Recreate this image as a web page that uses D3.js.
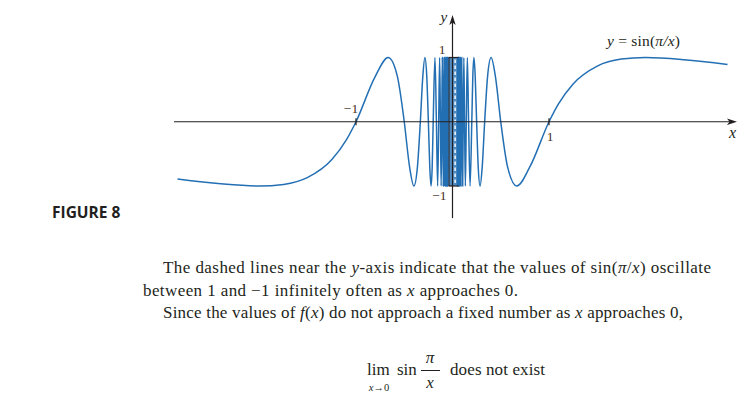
<!DOCTYPE html>
<html>
<head>
<meta charset="utf-8">
<script src="https://cdn.jsdelivr.net/npm/d3@7"></script>
<style>
  body { margin: 0; background: #fff; }
  svg { display: block; }
</style>
</head>
<body>
<div id="chart"></div>
<script>
// points, right of the y-axis (x > 0)
const rightX = [0.05, 0.0513, 0.0526, 0.0541, 0.0556, 0.0571, 0.0588, 0.0606,
  0.0625, 0.0645, 0.0667, 0.0690, 0.0714, 0.0741, 0.0769, 0.08, 0.0833, 0.0870,
  0.0909, 0.0952, 0.1, 0.1053, 0.1111, 0.1176, 0.125, 0.1333, 0.1429, 0.1538,
  0.1667, 0.1818, 0.2, 0.2105, 0.2222, 0.2353, 0.25, 0.2667, 0.2857, 0.3077,
  0.3333, 0.3636, 0.4, 0.4444, 0.5, 0.5714, 0.6667, 0.8, 1, 1.1, 1.25, 1.5,
  1.75, 2, 2.4, 2.85];
const rightY = [0, -1, 0, 1, 0, -1, 0, 1,
  0, -1, 0, 1, 0, -1, 0, 1, 0, -1,
  0, 1, 0, -1, 0, 1, 0, -1, 0, 1,
  0, -1, 0, 0.707, 1, 0.707, 0, -0.707, -1, -0.707,
  0, 0.707, 1, 0.707, 0, -0.707, -1, -0.707, 0, 0.282, 0.588, 0.866,
  0.975, 1, 0.966, 0.892];

// points, left of the y-axis (x < 0)
const leftX = [-2.85, -2.4, -2, -1.75, -1.5, -1.25, -1.1, -1, -0.8, -0.6667,
  -0.5714, -0.5, -0.4444, -0.4, -0.3636, -0.3333, -0.3077, -0.2857, -0.2667,
  -0.25, -0.2353, -0.2222, -0.2105, -0.2, -0.1818, -0.1667, -0.1538, -0.1429,
  -0.1333, -0.125, -0.1176, -0.1111, -0.1053, -0.1, -0.0952, -0.0909, -0.0870,
  -0.0833, -0.08, -0.0769, -0.0741, -0.0714, -0.0690, -0.0667, -0.0645, -0.0625,
  -0.0606, -0.0588, -0.0571, -0.0556, -0.0541, -0.0526, -0.0513, -0.05];
const leftY = [-0.892, -0.966, -1, -0.975, -0.866, -0.588, -0.282, 0, 0.707, 1,
  0.707, 0, -0.707, -1, -0.707, 0, 0.707, 1, 0.707,
  0, -0.707, -1, -0.707, 0, 1, 0, -1, 0,
  1, 0, -1, 0, 1, 0, -1, 0, 1,
  0, -1, 0, 1, 0, -1, 0, 1, 0,
  -1, 0, 1, 0, -1, 0, 1, 0];

// band where the oscillations are too dense to draw
const denseBand = [-0.05, 0.05];
const bracketX = [-0.036, 0.063];
const dashedX = 0.027;

const xAxisExtent = [-2.886, 2.948];
const yAxisExtent = [-1.5, 1.66];
const xTicks = [-1, 1];
const yTicks = [-1, 1];

const W = 740, H = 404;
const blue = "#236fb4";
const ink = "#231f20";
const serif = "'Liberation Serif', 'Times New Roman', serif";

const svg = d3.select("#chart").append("svg")
  .attr("width", W).attr("height", H)
  .attr("viewBox", "0 0 " + W + " " + H);

const x = d3.scaleLinear().domain([-1, 1]).range([356, 549]);
const y = d3.scaleLinear().domain([-1, 1]).range([186, 57.5]);

const line = d3.line()
  .x(d => x(d[0]))
  .y(d => y(d[1]))
  .curve(d3.curveMonotoneX);

const g = svg.append("g");

[[leftX, leftY], [rightX, rightY]].forEach(s => {
  g.append("path")
    .datum(d3.zip(s[0], s[1]))
    .attr("d", line)
    .attr("fill", "none")
    .attr("stroke", blue)
    .attr("stroke-width", 1.5);
});

// dense part near the y-axis
g.append("rect")
  .attr("x", x(denseBand[0]))
  .attr("y", y(1))
  .attr("width", x(denseBand[1]) - x(denseBand[0]))
  .attr("height", y(-1) - y(1))
  .attr("fill", blue)
  .attr("fill-opacity", 0.8);

g.append("line")
  .attr("x1", x(dashedX)).attr("x2", x(dashedX))
  .attr("y1", y(1) + 2).attr("y2", y(-1) - 2)
  .attr("stroke", "#fff")
  .attr("stroke-width", 1.4)
  .attr("stroke-dasharray", "3.5,2.5");

// bracket
g.append("line")
  .attr("x1", x(bracketX[0])).attr("x2", x(bracketX[0]))
  .attr("y1", y(1)).attr("y2", y(-1))
  .attr("stroke", ink).attr("stroke-width", 1);
yTicks.forEach(v => {
  g.append("line")
    .attr("x1", x(bracketX[0]) - 0.5).attr("x2", x(bracketX[1]))
    .attr("y1", y(v)).attr("y2", y(v))
    .attr("stroke", ink).attr("stroke-width", 1.2);
});

// axes
g.append("line")
  .attr("x1", x(xAxisExtent[0])).attr("x2", x(xAxisExtent[1]) - 4)
  .attr("y1", y(0)).attr("y2", y(0))
  .attr("stroke", ink).attr("stroke-width", 1.2);
g.append("path")
  .attr("d", "M" + x(xAxisExtent[1]) + "," + y(0) +
    "l-10,-3.2 l2.5,3.2 l-2.5,3.2z")
  .attr("fill", ink);

g.append("line")
  .attr("x1", x(0)).attr("x2", x(0))
  .attr("y1", y(yAxisExtent[0])).attr("y2", y(yAxisExtent[1]) + 4)
  .attr("stroke", ink).attr("stroke-width", 1.2);
g.append("path")
  .attr("d", "M" + x(0) + "," + y(yAxisExtent[1]) +
    "l-3.2,10 l3.2,-2.5 l3.2,2.5z")
  .attr("fill", ink);

xTicks.forEach(v => {
  g.append("line")
    .attr("x1", x(v)).attr("x2", x(v))
    .attr("y1", y(0) - 3.5).attr("y2", y(0) + 3.5)
    .attr("stroke", ink).attr("stroke-width", 1.2);
});

// labels
const lab = (px, py, txt, opts) => {
  const t = svg.append("text")
    .attr("x", px).attr("y", py)
    .attr("font-family", serif)
    .attr("font-size", opts.size || 13)
    .attr("font-style", opts.italic ? "italic" : "normal")
    .attr("fill", opts.fill || ink)
    .attr("text-anchor", opts.anchor || "start")
    .text(txt);
  if (opts.len) t.attr("textLength", opts.len).attr("lengthAdjust", "spacing");
  return t;
};
const part = (t, txt, italic) =>
  t.append("tspan").attr("font-style", italic ? "italic" : "normal").text(txt);

const tickInk = "#4a3020";
lab(x(-1) - 5, y(0) - 9, "\u22121", {anchor: "middle", fill: tickInk, size: 13.5});
lab(x(1) + 1, y(0) + 19, "1", {anchor: "middle", fill: tickInk, size: 13.5});
lab(x(0) - 7, y(1) - 4, "1", {anchor: "end", fill: tickInk, size: 13.5});
lab(x(0) - 6, y(-1) + 14, "\u22121", {anchor: "end", fill: tickInk, size: 13.5});
lab(x(0) - 12, 22, "y", {italic: true, size: 15});
lab(x(xAxisExtent[1]) - 8, y(0) + 16, "x", {italic: true, size: 16});

const eq = lab(607, 46, "", {size: 15.5, len: 73});
part(eq, "y", true);
part(eq, " = sin(");
part(eq, "\u03c0/x", true);
part(eq, ")");

svg.append("text")
  .attr("x", 52).attr("y", 218)
  .attr("font-family", "'Open Sans', 'Liberation Sans', sans-serif")
  .attr("font-weight", "bold")
  .attr("font-size", 15.5)
  .attr("fill", ink)
  .text("FIGURE 8");

// paragraph
const para = [
  [163, 273, 548, [["The dashed lines near the "], ["y", 1], ["-axis indicate that the values of sin("], ["\u03c0", 1], ["/"], ["x", 1], [") oscillate"]]],
  [143, 296, 375, [["between 1 and \u22121 infinitely often as "], ["x", 1], [" approaches 0."]]],
  [163, 318, 520, [["Since the values of "], ["f", 1], ["("], ["x", 1], [") do not approach a fixed number as "], ["x", 1], [" approaches 0,"]]]
];
para.forEach(p => {
  const t = lab(p[0], p[1], "", {size: 17, len: p[2]});
  p[3].forEach(s => part(t, s[0], s[1]));
});

// limit formula
lab(367, 375, "lim", {size: 17});
const sub = lab(379, 391, "", {size: 10.5, anchor: "middle"});
part(sub, "x", true);
part(sub, "\u21920");
lab(397, 375, "sin", {size: 17});
lab(430, 363, "\u03c0", {size: 17, anchor: "middle", italic: true});
svg.append("line")
  .attr("x1", 421).attr("x2", 440)
  .attr("y1", 370.5).attr("y2", 370.5)
  .attr("stroke", ink).attr("stroke-width", 1);
lab(430, 388, "x", {size: 17, anchor: "middle", italic: true});
lab(450, 375, "does not exist", {size: 17, len: 95});
</script>
</body>
</html>
